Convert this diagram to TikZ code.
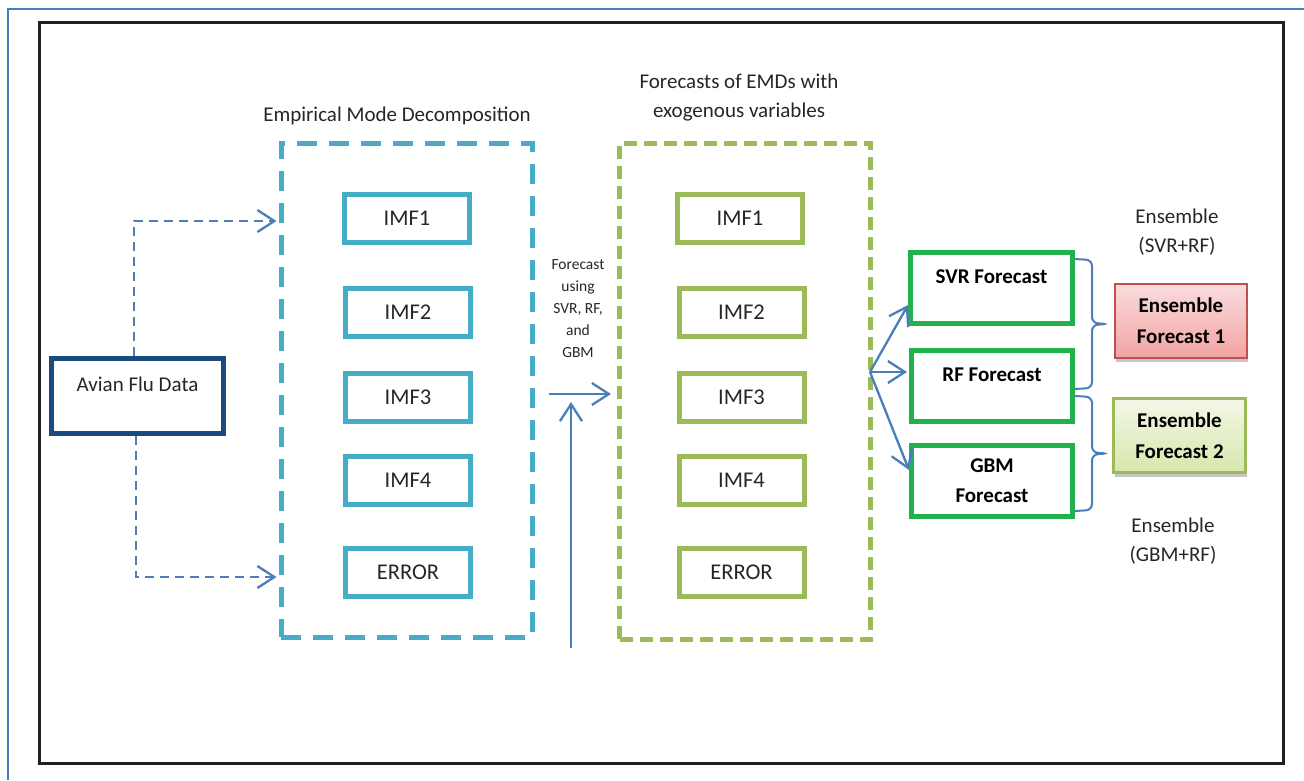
\documentclass[tikz,border=0pt]{standalone}
\usepackage{fontspec}
\setmainfont{Carlito}
\usetikzlibrary{arrows.meta,shadows,calc}

\definecolor{pageblue}{HTML}{4A7EBB}
\definecolor{framegray}{HTML}{231F20}
\definecolor{inkgray}{HTML}{262626}
\definecolor{navyline}{HTML}{1A4A7E}
\definecolor{tealline}{HTML}{45ADC6}
\definecolor{oliveline}{HTML}{9BBB59}
\definecolor{fcgreen}{HTML}{22B14C}
\definecolor{connblue}{HTML}{4A7EBB}
\definecolor{redtop}{HTML}{FADCDD}
\definecolor{redbot}{HTML}{F2A3A3}
\definecolor{redline}{HTML}{C0504D}
\definecolor{grntop}{HTML}{F3F8E6}
\definecolor{grnbot}{HTML}{D8E6AD}

\begin{document}
\begin{tikzpicture}[x=1pt,y=-1pt,
  txt/.style={font=\fontsize{21}{29}\selectfont, text=inkgray, align=center, inner sep=0pt},
  smalltxt/.style={font=\fontsize{15.5}{22}\selectfont, text=inkgray, align=center, inner sep=0pt},
  imfcyan/.style={draw=tealline, line width=5pt, minimum width=125pt, minimum height=48pt,
    inner sep=0pt, font=\fontsize{22.5}{27}\selectfont, text=inkgray},
  imfolive/.style={imfcyan, draw=oliveline},
  emdframe/.style={draw=tealline, line width=5pt, dash pattern=on 20pt off 12pt,
    minimum width=251pt, minimum height=494pt, inner sep=0pt},
  fcframe/.style={draw=oliveline, line width=5pt, dash pattern=on 13pt off 7pt,
    minimum width=250.5pt, minimum height=496pt, inner sep=0pt},
  toptext/.style={draw=#1, line width=5pt, inner sep=0pt, text height=30.5pt, text depth=40.5pt,
    anchor=base, font=\fontsize{21}{29}\selectfont},
  mlbox/.style={draw=fcgreen, line width=5pt, inner sep=0pt, minimum width=161pt, minimum height=71pt,
    align=center, font=\bfseries\fontsize{21}{30}\selectfont, text=black},
  ensbox/.style={line width=2.5pt, inner sep=0pt, minimum width=132pt, minimum height=74pt,
    align=center, font=\bfseries\fontsize{21}{31}\selectfont, text=black,
    drop shadow={shadow xshift=1pt, shadow yshift=-4pt, opacity=0.45, fill=gray}},
  conn/.style={draw=connblue, line width=2.3pt,
    -{Straight Barb[length=17pt, width=22pt, line width=2.3pt]}},
  dconn/.style={conn, dash pattern=on 9pt off 6pt},
  brc/.style={draw=connblue, line width=2pt, rounded corners=6pt}
]
\useasboundingbox (0,0) rectangle (1304,780);

% page rules and outer frame
\draw[pageblue, line width=2pt] (8,780) -- (8,9) -- (1304,9);
\draw[framegray, line width=3pt] (39,22) rectangle (1283,763);

% headings
\node[txt] (ttlemd) at (397,116) {Empirical Mode Decomposition};
\node[txt] (ttlfc) at (739,98) {Forecasts of EMDs with\\exogenous variables};

% input data
\node[toptext=navyline, minimum width=172pt, text=inkgray, font=\fontsize{21}{29}\selectfont,
  text depth=42.5pt, text height=32.5pt] (avian) at (137.5,391) {Avian Flu Data};

% decomposition block
\node[emdframe] (emd) at (406.5,390) {};
\node[imfcyan] (c1) at (407,218.5) {IMF1};
\node[imfcyan] (c2) at (408,312.5) {IMF2};
\node[imfcyan] (c3) at (408,397) {IMF3};
\node[imfcyan] (c4) at (408,480.5) {IMF4};
\node[imfcyan] (c5) at (408,572.5) {ERROR};

% forecast block
\node[fcframe] (emg) at (744.75,391) {};
\node[imfolive] (g1) at (740,218.5) {IMF1};
\node[imfolive] (g2) at (741.5,312.5) {IMF2};
\node[imfolive] (g3) at (741.5,397) {IMF3};
\node[imfolive] (g4) at (741.5,480.5) {IMF4};
\node[imfolive] (g5) at (741.5,572.5) {ERROR};

\node[smalltxt] (fcnote) at (578,309) {Forecast\\using\\SVR, RF,\\and\\GBM};

% model forecasts
\node[toptext=fcgreen, minimum width=162pt, font=\bfseries\fontsize{21}{29}\selectfont, text=black]
  (svr) at (991.5,283) {SVR Forecast};
\node[toptext=fcgreen, minimum width=161pt, font=\bfseries\fontsize{21}{29}\selectfont, text=black]
  (rf) at (992,381) {RF Forecast};
\node[mlbox] (gbm) at (992,481) {GBM\\Forecast};

% ensembles
\node[ensbox, draw=redline, top color=redtop, bottom color=redbot] (ens1) at (1181,321)
  {Ensemble\\Forecast 1};
\node[ensbox, draw=oliveline, top color=grntop, bottom color=grnbot] (ens2) at (1179.5,435.5)
  {Ensemble\\Forecast 2};
\node[txt] (lblsvrrf) at (1177,232.5) {Ensemble\\(SVR+RF)};
\node[txt] (lblgbmrf) at (1173,541) {Ensemble\\(GBM+RF)};

% connectors
\coordinate (uprow) at (0,221);
\coordinate (lowrow) at (0,577);
\draw[dconn, shorten >=2pt] ([xshift=-3.5pt]avian.north) |- (emd.west |- uprow);
\draw[dconn, shorten >=2pt] ([xshift=-1.5pt]avian.south) |- (emd.west |- lowrow);

\coordinate (hs) at (549,394);
\coordinate (vs) at (571,648);
\coordinate (ve) at (571,402);
\draw[conn] (hs) -- (hs -| emg.west) [shorten >=6pt];
\draw[conn] (vs) -- (ve);

\coordinate (fork) at (870,372);
\draw[conn] (fork) -- ($(svr.west)+(0,17)$);
\draw[conn] (fork) -- ($(rf.west)+(-2,-14)$);
\draw[conn] (fork) -- ($(gbm.west)+(0,-11)$);

% curly braces grouping the model pairs
\coordinate (b1a) at ($(svr.north east)+(0,9)$);
\coordinate (b1b) at ($(rf.east)+(0,3)$);
\coordinate (b2a) at ($(rf.south east)+(0,-28)$);
\coordinate (b2b) at ($(gbm.south east)+(0,-8)$);
\coordinate (tip1) at ($(b1a)!0.5!(b1b)+(33,0)$);
\coordinate (tip2) at ($(b2a)!0.5!(b2b)+(33,0)$);
\draw[brc] (b1a) -- ($(b1a)+(17,1)$) -- ($(tip1)+(-16,-1)$) -- (tip1)
  -- ($(tip1)+(-16,1)$) -- ($(b1b)+(17,-1)$) -- (b1b);
\draw[brc] (b2a) -- ($(b2a)+(17,1)$) -- ($(tip2)+(-16,-1)$) -- (tip2)
  -- ($(tip2)+(-16,1)$) -- ($(b2b)+(17,-1)$) -- (b2b);
\end{tikzpicture}
\end{document}
